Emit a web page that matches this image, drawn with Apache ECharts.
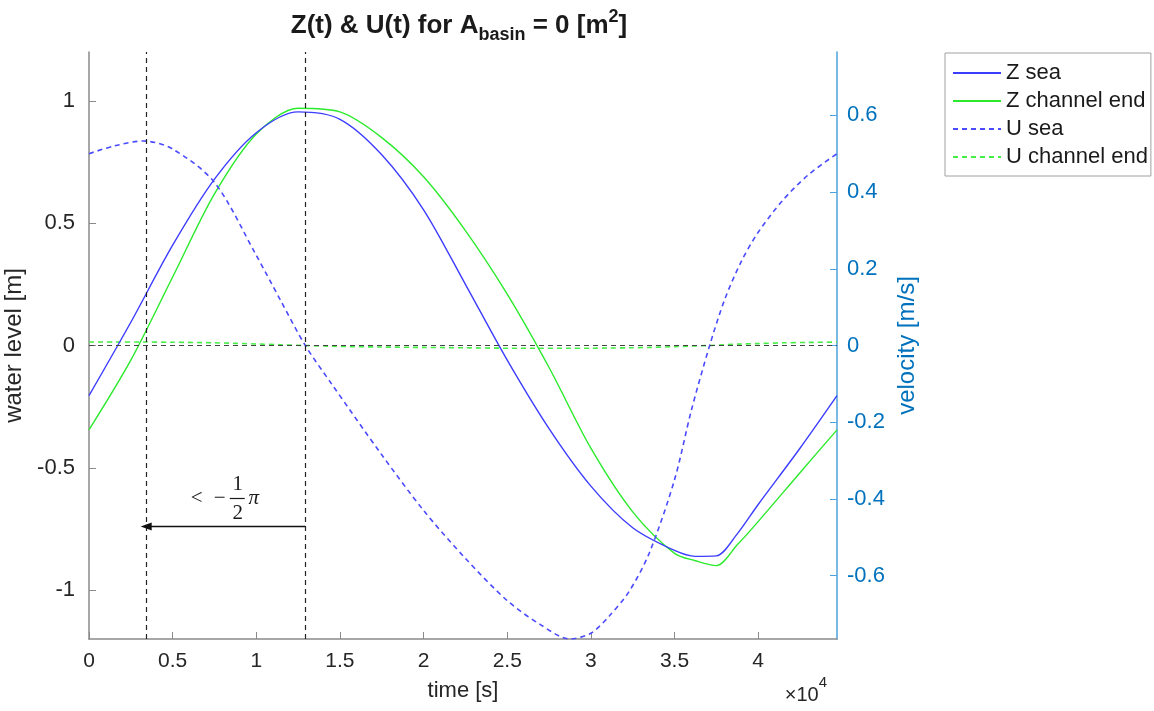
<!DOCTYPE html>
<html>
<head>
<meta charset="utf-8">
<script src="https://cdn.jsdelivr.net/npm/echarts@6/dist/echarts.min.js"></script>
<style>
  html, body { margin: 0; padding: 0; background: #ffffff; }
  #chart { width: 1154px; height: 711px; }
</style>
</head>
<body>
<div id="chart"></div>
<script>
// ---- data -------------------------------------------------------------
// one tidal period (M2), seconds
const timeMax = 44712;

// water level samples [s] and [m]
const timeZ = [0, 2500, 5000, 7500, 10000, 12500, 15000, 17500, 20000, 22500, 25000,
               27500, 30000, 32500, 35000, 36250, 37500, 38750, 40000, 42500, 44712];
const zSea = [-0.205, 0.095, 0.41, 0.68, 0.87, 0.955, 0.925, 0.78, 0.555, 0.25, -0.06,
              -0.34, -0.575, -0.745, -0.838, -0.862, -0.86, -0.77, -0.65, -0.42, -0.205];
const zChannelEnd = [-0.345, -0.06, 0.28, 0.62, 0.865, 0.97, 0.955, 0.85, 0.69, 0.47, 0.21,
                     -0.09, -0.42, -0.68, -0.85, -0.88, -0.9, -0.815, -0.72, -0.52, -0.345];

// velocity samples [s] and [m/s]
const timeU = [0, 1500, 3250, 5000, 7500, 10000, 11420, 12930, 14500, 17500, 20000, 22500,
               25000, 26900, 28750, 30000, 31100, 32300, 33500, 35000, 36000, 37100, 38000,
               39000, 40000, 41500, 43000, 44712];
const uSea = [0.50, 0.52, 0.533, 0.512, 0.425, 0.235, 0.12, 0.0, -0.10, -0.285, -0.43, -0.555,
              -0.665, -0.725, -0.765, -0.75, -0.705, -0.64, -0.54, -0.35, -0.17, 0.0, 0.12,
              0.22, 0.295, 0.38, 0.445, 0.50];
const uChannelEnd = [0.009, 0.009, 0.009, 0.0085, 0.007, 0.004, 0.002, 0.0, -0.002, -0.004, -0.005, -0.006,
                     -0.007, -0.007, -0.007, -0.007, -0.0065, -0.006, -0.005, -0.003, -0.0015, 0.0, 0.002,
                     0.004, 0.005, 0.007, 0.008, 0.009];

// axis ranges and ticks
const levelLimit = 1.2;
const velocityLimit = 0.765;
const timeTicks = [0, 5000, 10000, 15000, 20000, 25000, 30000, 35000, 40000];
const levelTicks = [-1, -0.5, 0, 0.5, 1];
const velocityTicks = [-0.6, -0.4, -0.2, 0, 0.2, 0.4, 0.6];

// phase-lag markers: velocity maximum and water-level maximum at sea
const markerTimes = [3420, 12930];
const arrowLevel = -0.74;

const seriesNames = ['Z sea', 'Z channel end', 'U sea', 'U channel end'];

// ---- chart ------------------------------------------------------------
const FONT = '"Liberation Sans", Arial, Helvetica, sans-serif';
const MATH = '"Liberation Serif", "DejaVu Serif", serif';
const TEXT = '#262626';
const AXIS = '#8a8a8a';
const RIGHT = '#0072BD';
const RIGHT_LINE = '#4ba3dc';

const pairs = (xs, ys) => xs.map((x, i) => [x, ys[i]]);

const chart = echarts.init(document.getElementById('chart'), null, { renderer: 'canvas' });

const option = {
  animation: false,
  backgroundColor: '#ffffff',
  grid: { left: 89, right: 317, top: 52, bottom: 72, outerBoundsMode: 'none' },
  xAxis: {
    type: 'value', min: 0, max: timeMax,
    name: 'time [s]', nameLocation: 'middle', nameGap: 41,
    nameTextStyle: { fontSize: 22, color: TEXT, fontFamily: FONT },
    axisLine: { onZero: false, lineStyle: { color: AXIS, width: 1.5 } },
    axisTick: { inside: true, length: 7, customValues: timeTicks, lineStyle: { color: AXIS } },
    axisLabel: { customValues: timeTicks, formatter: v => String(v / 1e4),
                 fontSize: 21, color: TEXT, fontFamily: FONT, margin: 12 },
    splitLine: { show: false }
  },
  yAxis: [
    {
      type: 'value', position: 'left', min: -levelLimit, max: levelLimit,
      name: 'water level [m]', nameLocation: 'middle', nameGap: 55, nameRotate: 90,
      nameTextStyle: { fontSize: 24, color: TEXT, fontFamily: FONT },
      axisLine: { show: true, onZero: false, lineStyle: { color: AXIS, width: 1.5 } },
      axisTick: { show: true, inside: true, length: 7, customValues: levelTicks, lineStyle: { color: AXIS } },
      axisLabel: { customValues: levelTicks, formatter: v => String(v),
                   fontSize: 22, color: TEXT, fontFamily: FONT, margin: 14 },
      splitLine: { show: false }
    },
    {
      type: 'value', position: 'right', min: -velocityLimit, max: velocityLimit,
      name: 'velocity [m/s]', nameLocation: 'middle', nameGap: 56, nameRotate: 90,
      nameTextStyle: { fontSize: 24, color: RIGHT, fontFamily: FONT },
      axisLine: { show: true, onZero: false, lineStyle: { color: RIGHT_LINE, width: 1.5 } },
      axisTick: { show: true, inside: true, length: 7, customValues: velocityTicks, lineStyle: { color: RIGHT_LINE } },
      axisLabel: { customValues: velocityTicks, formatter: v => String(v),
                   fontSize: 22, color: RIGHT, fontFamily: FONT, margin: 10 },
      splitLine: { show: false }
    }
  ],
  legend: {
    data: seriesNames,
    orient: 'vertical', left: 945, top: 53,
    itemWidth: 48, itemHeight: 14, itemGap: 6,
    padding: [9, 3, 8, 7],
    borderColor: '#a0a0a0', borderWidth: 1, backgroundColor: '#ffffff',
    itemStyle: { opacity: 0 },
    textStyle: { fontSize: 22, color: '#1a1a1a', fontFamily: FONT }
  },
  series: [
    {
      name: 'Z sea', type: 'line', yAxisIndex: 0, data: pairs(timeZ, zSea),
      symbol: 'none', smooth: 0.3, color: '#3d3dff',
      lineStyle: { color: '#3d3dff', width: 1.4 }, z: 4
    },
    {
      name: 'Z channel end', type: 'line', yAxisIndex: 0, data: pairs(timeZ, zChannelEnd),
      symbol: 'none', smooth: 0.3, color: '#2bea2b',
      lineStyle: { color: '#2bea2b', width: 1.4 }, z: 3
    },
    {
      name: 'U sea', type: 'line', yAxisIndex: 1, data: pairs(timeU, uSea),
      symbol: 'none', smooth: 0.3, color: '#4a4aff',
      lineStyle: { color: '#4a4aff', width: 1.6, type: [5, 4] }, z: 4
    },
    {
      name: 'U channel end', type: 'line', yAxisIndex: 1, data: pairs(timeU, uChannelEnd),
      symbol: 'none', smooth: 0.3, color: '#44ee44',
      lineStyle: { color: '#44ee44', width: 1.6, type: [5, 4] }, z: 3
    },
    {
      name: 'guides', type: 'line', yAxisIndex: 0, data: [], z: 5,
      markLine: {
        silent: true, animation: false, symbol: 'none',
        label: { show: false },
        lineStyle: { color: '#222222', width: 1.2, type: [5, 4] },
        data: [
          [{ coord: [markerTimes[0], -levelLimit] }, { coord: [markerTimes[0], levelLimit] }],
          [{ coord: [markerTimes[1], -levelLimit] }, { coord: [markerTimes[1], levelLimit] }],
          [{ coord: [0, 0], lineStyle: { color: '#444444', width: 1.2, type: [5, 4] } }, { coord: [timeMax, 0] }],
          [
            { coord: [markerTimes[1], arrowLevel], symbol: 'none', lineStyle: { type: 'solid', color: '#111111', width: 1.3 } },
            { coord: [markerTimes[0], arrowLevel], symbol: 'triangle', symbolSize: [8, 11] }
          ]
        ]
      }
    }
  ]
};

chart.setOption(option);

// title, exponent note and the phase-lag label "< −½π" above the arrow
const plotLeft = chart.convertToPixel({ xAxisIndex: 0 }, 0);
const plotRight = chart.convertToPixel({ xAxisIndex: 0 }, timeMax);
const mid = chart.convertToPixel({ xAxisIndex: 0, yAxisIndex: 0 },
  [(markerTimes[0] + markerTimes[1]) / 2, arrowLevel]);
const lx = mid[0], ly = mid[1] - 28;
const mathText = (id, t, x, y, italic) => ({
  id: id, type: 'text', x: x, y: y, z: 10,
  style: { text: t, fontSize: 21, fontStyle: italic ? 'italic' : 'normal', fontFamily: MATH,
           fill: '#1a1a1a', align: 'center', verticalAlign: 'middle' }
});

chart.setOption({
  graphic: [
    {
      id: 'title', type: 'text', x: (plotLeft + plotRight) / 2 - 4, y: 26, z: 10,
      style: {
        text: '{b|Z(t) & U(t) for A}{sub|basin}{b| = 0 [m}{sup|2}{b|]}',
        align: 'center', verticalAlign: 'middle',
        rich: {
          b: { fontSize: 26, fontWeight: 'bold', fontFamily: FONT, fill: '#1a1a1a', lineHeight: 36 },
          sub: { fontSize: 18, fontWeight: 'bold', fontFamily: FONT, fill: '#1a1a1a', lineHeight: 18, verticalAlign: 'bottom' },
          sup: { fontSize: 18, fontWeight: 'bold', fontFamily: FONT, fill: '#1a1a1a', lineHeight: 18, verticalAlign: 'top' }
        }
      }
    },
    {
      id: 'exponent', type: 'text', x: plotRight - 10, y: 690, z: 10,
      style: {
        text: '{a|×10}{s|4}',
        align: 'right', verticalAlign: 'middle',
        rich: {
          a: { fontSize: 20, fontFamily: FONT, fill: TEXT, lineHeight: 30, verticalAlign: 'bottom' },
          s: { fontSize: 15, fontFamily: FONT, fill: TEXT, lineHeight: 16, verticalAlign: 'top' }
        }
      }
    },
    mathText('lt', '<', lx - 29, ly),
    mathText('minus', '\u2212', lx - 6, ly),
    mathText('num', '1', lx + 12, ly - 14),
    { id: 'bar', type: 'line', z: 10, shape: { x1: lx + 4, y1: ly, x2: lx + 19, y2: ly },
      style: { stroke: '#1a1a1a', lineWidth: 1.2 } },
    mathText('den', '2', lx + 12, ly + 15),
    mathText('pi', '\u03c0', lx + 28, ly, true)
  ]
});
</script>
</body>
</html>
